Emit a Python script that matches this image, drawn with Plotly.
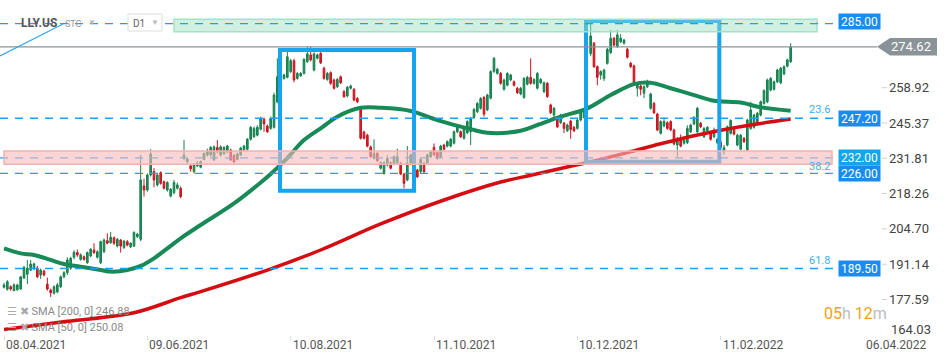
import plotly.graph_objects as go

# ---------------- data (daily bars, index 0 = 08.04.2021) ----------------
opens = [182.3,181.5,182.5,181.0,181.3,181.6,185.8,187.3,188.9,189.4,189.6,187.0,188.5,183.5,181.2,180.0,180.5,182.5,186.3,187.9,
 189.6,193.8,195.6,193.0,194.0,191.7,194.3,196.6,193.8,191.7,195.9,200.2,199.4,201.3,198.1,200.4,197.6,199.8,197.8,198.1,
 201.7,200.7,221.2,219.6,225.4,226.7,221.6,226.3,222.8,219.6,217.3,218.6,220.3,220.3,231.8,230.5,228.9,226.7,228.9,228.4,
 231.4,233.1,233.1,231.2,236.0,233.1,233.7,234.3,235.0,232.9,231.4,233.1,235.0,235.3,239.1,240.1,240.7,243.0,246.8,244.2,
 243.3,243.7,253.5,263.0,262.5,262.9,265.1,269.3,262.5,263.5,264.4,268.9,271.5,265.7,270.2,272.1,266.4,262.1,264.7,261.9,
 259.3,263.1,257.4,255.7,258.7,258.3,254.8,251.0,241.9,240.7,236.2,231.8,233.7,228.0,226.0,229.2,230.1,229.6,230.1,229.9,
 225.7,223.5,230.1,232.0,227.3,226.7,229.9,230.1,232.4,236.0,234.0,232.4,236.9,236.5,236.5,237.6,242.0,242.0,239.5,241.6,
 242.0,247.5,249.7,251.0,255.2,250.4,254.9,265.1,264.4,264.4,258.3,259.9,261.9,261.2,258.7,256.5,255.2,260.3,262.9,260.6,
 258.7,260.8,257.4,260.6,252.3,248.4,246.8,245.5,245.3,242.4,246.1,243.7,243.3,246.5,247.5,250.5,272.0,276.0,267.0,263.8,
 262.5,268.3,272.4,277.9,274.7,276.6,276.0,273.7,268.3,267.3,258.7,259.6,256.8,259.3,251.0,252.9,248.8,241.4,244.2,245.5,
 245.9,242.7,236.9,239.5,237.6,237.8,242.0,245.0,242.0,245.3,240.1,242.4,241.4,240.1,237.8,238.0,234.5,236.9,241.4,243.3,
 236.9,235.3,239.5,235.0,243.3,243.7,245.3,248.4,252.9,253.5,258.0,258.3,261.2,260.8,264.2,267.2,268.9]
highs = [184.0,185.0,183.0,183.8,183.6,186.6,190.5,192.8,192.8,191.8,190.5,189.5,189.0,186.0,181.8,183.0,184.0,186.8,188.5,193.8,
 194.0,196.5,196.8,195.3,194.5,196.0,197.3,199.2,196.5,200.2,201.0,203.0,203.5,201.8,201.2,200.8,200.5,200.4,199.6,203.8,
 203.2,233.1,224.0,226.0,235.3,228.0,226.0,226.8,223.3,223.0,220.4,223.5,222.5,221.0,238.8,232.0,229.5,230.0,230.8,231.0,
 234.0,235.5,236.5,236.8,238.8,236.8,236.5,237.0,235.5,233.5,234.0,236.2,237.0,239.6,244.2,244.0,244.5,247.8,247.5,244.8,
 247.8,257.0,270.2,266.0,264.3,272.7,270.0,270.0,265.0,265.0,270.3,274.7,274.7,272.5,272.0,272.6,267.0,265.0,265.2,262.4,
 262.6,263.6,258.0,259.6,260.1,258.8,255.3,251.5,242.4,241.2,236.7,239.1,234.2,230.6,230.6,233.0,230.6,232.9,235.5,230.4,
 226.2,236.5,233.6,233.0,227.8,232.0,230.4,233.6,234.8,237.5,234.5,237.0,237.4,238.7,239.6,242.5,244.4,242.5,244.2,246.4,
 247.7,251.1,253.4,255.3,255.7,256.6,265.6,270.7,266.5,265.0,262.4,264.9,264.3,261.7,259.2,259.2,263.0,263.4,270.2,262.6,
 264.9,262.6,261.3,261.1,252.8,251.5,247.3,248.9,245.8,245.1,246.6,244.2,247.0,250.2,250.9,253.0,283.6,276.5,267.5,265.6,
 266.2,274.2,281.0,278.4,281.1,279.5,277.7,274.2,268.8,267.8,260.5,260.1,259.8,262.0,257.0,253.4,249.3,246.4,247.5,246.0,
 246.4,243.2,240.0,241.0,239.3,244.5,245.1,248.0,251.5,245.8,243.8,244.2,241.9,243.6,239.6,239.0,237.0,244.4,246.8,243.8,
 241.2,241.2,240.0,247.0,253.5,248.9,249.6,254.0,258.3,262.4,263.0,261.7,266.2,266.9,267.5,270.1,276.0]
lows = [181.8,181.0,181.0,180.8,181.0,181.3,185.5,183.5,188.5,188.8,185.9,185.5,186.5,181.0,178.6,179.5,180.0,182.0,185.8,187.0,
 189.0,193.0,194.0,192.5,192.5,191.3,193.8,195.0,193.3,191.2,195.5,198.8,199.0,198.5,197.6,195.6,197.0,198.0,197.3,197.7,
 201.2,200.0,217.1,219.0,224.8,220.7,221.0,221.7,219.8,219.0,216.8,218.0,219.8,216.5,231.0,230.0,226.7,226.0,228.5,228.0,
 231.0,232.5,232.5,230.8,233.8,232.5,233.0,233.8,230.8,230.0,231.0,232.7,234.5,234.8,238.6,239.6,240.2,242.5,242.0,241.5,
 242.8,243.2,253.0,260.0,262.0,262.5,264.5,261.0,262.0,263.0,264.0,268.5,269.0,265.2,269.8,268.0,262.0,261.6,260.0,258.2,
 258.8,260.3,255.0,255.2,258.2,253.7,253.0,239.0,239.0,236.0,232.0,231.3,230.4,227.5,225.5,228.7,227.5,229.1,229.6,225.3,
 220.3,223.0,229.6,229.0,224.2,226.2,226.2,229.6,231.9,232.6,231.3,231.9,234.8,236.0,236.0,237.1,241.5,239.6,239.0,241.1,
 236.9,247.0,249.2,250.5,247.8,249.9,254.4,264.6,263.9,260.1,257.8,259.4,261.4,259.4,256.5,256.0,254.7,259.8,260.1,260.1,
 258.2,260.3,256.9,255.0,248.8,246.9,243.4,245.0,241.5,241.9,239.3,241.9,242.8,246.0,247.0,249.0,271.0,266.5,259.9,262.0,
 261.5,267.8,271.9,274.8,274.2,276.1,275.5,270.1,266.5,260.1,255.5,256.0,254.9,258.8,250.5,248.8,242.2,240.9,243.7,242.8,
 242.2,236.8,232.4,236.0,237.1,237.3,241.5,244.5,241.5,243.4,239.6,241.9,238.6,239.6,237.3,235.0,233.1,236.4,240.9,240.6,
 236.4,234.8,237.7,234.5,242.8,243.2,244.8,247.9,252.4,253.0,257.5,257.8,260.7,260.3,263.7,266.7,268.4]
closes = [183.2,184.4,181.6,183.2,183.2,186.3,189.9,189.6,191.2,191.2,186.3,188.9,187.0,181.6,180.2,182.5,183.2,186.3,187.9,192.8,
 193.4,195.7,194.7,194.7,193.0,195.6,196.9,195.6,195.9,199.8,200.4,199.2,201.5,199.2,200.7,198.1,200.0,198.5,199.2,203.3,
 202.7,223.5,219.6,225.4,233.5,223.5,225.4,222.2,220.3,222.5,219.9,222.5,221.6,217.1,233.1,231.5,227.8,229.2,229.9,230.5,
 233.7,234.6,236.0,236.2,234.3,236.2,236.0,236.5,231.2,230.5,233.5,235.7,236.5,239.1,243.7,243.3,243.7,247.2,245.0,242.0,
 247.2,256.1,263.1,262.0,263.8,270.8,269.3,261.9,264.4,264.4,269.8,271.9,269.6,271.9,271.5,268.5,262.5,264.4,260.6,258.7,
 262.1,260.8,255.5,259.1,259.6,254.2,253.5,239.5,239.5,236.5,232.4,233.7,230.9,230.1,230.1,231.8,228.0,232.4,232.4,225.8,
 222.2,229.9,233.1,230.0,224.7,231.4,226.7,233.1,234.3,233.1,231.8,236.5,235.3,238.2,239.1,242.0,243.9,240.1,243.7,245.9,
 247.2,250.6,252.9,254.8,248.8,256.1,265.1,270.2,266.0,260.6,261.9,264.4,263.8,259.9,257.0,258.7,262.5,262.9,260.6,262.1,
 264.4,262.1,260.8,255.5,249.3,251.0,243.9,248.4,243.3,244.6,242.9,242.4,246.5,249.7,250.4,252.0,278.8,267.0,262.9,265.1,
 265.7,273.7,277.9,275.3,279.2,277.9,277.2,270.6,267.0,260.6,260.0,258.3,259.3,261.2,256.5,249.3,242.7,245.9,245.9,243.3,
 242.7,237.3,239.5,236.5,238.8,243.3,244.6,247.5,251.0,243.9,243.3,243.7,239.1,242.7,239.1,236.0,235.9,243.9,246.3,241.1,
 240.7,240.7,238.2,246.5,250.4,248.4,249.1,253.5,257.8,261.9,262.5,261.2,265.7,266.4,267.0,269.6,274.62]
bar_idx = list(range(len(closes)))

sma50_idx = [0,5,9,14,18,23,29,32,37,41,45,49,53,59,69,77,80,85,90,95,100,107,113,122,130,140,145,155,160,167,175,182,189,194,200,207,213,221,227,236]
sma50_val = [197.2,195.3,194.7,192.8,191.2,190.2,188.9,188.3,188.9,190.5,193.4,197.2,201.1,206.2,214.5,222.5,225.8,231.9,238.8,243.3,247.8,251.2,251.2,250.0,246.5,243.0,241.6,242.4,244.6,247.8,251.0,256.1,260.3,260.8,258.7,256.1,253.9,253.2,251.4,250.08]
sma200_idx = [0,19,39,53,59,79,95,113,132,149,158,167,177,187,197,207,217,227,236]
sma200_val = [166.1,169.2,172.5,178.3,180.6,188.9,196.6,206.6,215.8,222.7,225.3,227.9,230.8,234.0,237.4,240.5,243.1,245.2,246.88]

date_tick_idx = [0, 43, 86, 129, 172, 215, 258]
date_tick_text = ["08.04.2021", "09.06.2021", "10.08.2021", "11.10.2021", "10.12.2021", "11.02.2022", "06.04.2022"]
price_ticks = [177.59, 191.14, 204.70, 218.26, 231.81, 245.37, 258.92]
price_tick_text = ["177.59", "191.14", "204.70", "218.26", "231.81", "245.37", "258.92"]
bottom_tick_text = "164.03"

fib_levels = [283.5, 247.2, 226.0, 189.5]
fib_labels = ["", "23.6", "38.2", "61.8"]
level_boxes = [(284.3, "285.00", "#1a8cf0"), (247.2, "247.20", "#1a8cf0"), (232.0, "232.00", "#12a5ea"),
               (226.0, "226.00", "#1a8cf0"), (189.5, "189.50", "#1a8cf0")]
last_price = 274.62
sma200_last, sma50_last = 246.88, 250.08

# drawings (user objects on the chart)
support_zone = (229.5, 234.6)
resist_zone = (280.4, 285.2)
boxes = [(82.8, 123.0, 219.4, 273.4), (174.6, 214.6, 230.5, 284.5)]
trendline = (-1.2, 271.1, 17.7, 283.4)

X0, X1 = -1.2, 249.3
Y0, Y1 = 163.96, 292.6
PLOT_W, PLOT_H = 835, 335

def px(xp):  # paper x from pixel
    return xp / PLOT_W

def py(yp):  # paper y from pixel (from top)
    return (PLOT_H - yp) / PLOT_H

fig = go.Figure()
fig.add_trace(go.Candlestick(
    x=bar_idx, open=opens, high=highs, low=lows, close=closes,
    increasing=dict(line=dict(color="#15804e", width=1), fillcolor="#1f8f5b"),
    decreasing=dict(line=dict(color="#c9141f", width=1), fillcolor="#dc2330"),
    whiskerwidth=0, showlegend=False, hoverinfo="skip"))
fig.add_trace(go.Scatter(x=sma200_idx, y=sma200_val, mode="lines",
    line=dict(color="#d40d12", width=3.5, shape="spline"), showlegend=False, hoverinfo="skip"))
fig.add_trace(go.Scatter(x=sma50_idx, y=sma50_val, mode="lines",
    line=dict(color="#188a57", width=4, shape="spline"), showlegend=False, hoverinfo="skip"))

shapes = []
for (xa, xb, ya, yb) in boxes:
    shapes.append(dict(type="rect", xref="x", yref="y", x0=xa, x1=xb, y0=ya, y1=yb,
                       line=dict(color="#16a4ee", width=4), layer="above"))
shapes.append(dict(type="line", xref="paper", yref="y", x0=0, x1=1.005, y0=232.0, y1=232.0,
                   line=dict(color="#1e9ff0", width=1.3, dash="8px,7px"), layer="above"))
shapes.append(dict(type="rect", xref="paper", yref="y", x0=px(4), x1=px(832), y0=support_zone[0], y1=support_zone[1],
                   fillcolor="rgba(245,185,185,0.6)", line=dict(color="#f3b1b1", width=1.5), layer="above"))
shapes.append(dict(type="rect", xref="paper", yref="y", x0=px(174), x1=px(817), y0=resist_zone[0], y1=resist_zone[1],
                   fillcolor="rgba(150,225,190,0.45)", line=dict(color="#a3e2c6", width=1.5), layer="above"))
for lv in fib_levels:
    shapes.append(dict(type="line", xref="paper", yref="y", x0=0, x1=1.005, y0=lv, y1=lv,
                       line=dict(color="#1e9ff0", width=1.3, dash="8px,7px"), layer="above"))
shapes.append(dict(type="line", xref="paper", yref="y", x0=0, x1=px(877), y0=last_price, y1=last_price,
                   line=dict(color="#8a9398", width=1.3), layer="above"))
shapes.append(dict(type="line", xref="x", yref="y", x0=trendline[0], y0=trendline[1], x1=trendline[2], y1=trendline[3],
                   line=dict(color="#2fa8f0", width=1.2), layer="above"))
shapes.append(dict(type="rect", xref="paper", yref="paper", x0=px(128), x1=px(162), y0=py(31), y1=py(14),
                   fillcolor="white", line=dict(color="#dddddd", width=1), layer="above"))
dy = 8.7 * (Y1 - Y0) / PLOT_H
shapes.append(dict(type="path", xref="paper", yref="y",
                   path=f"M {px(877)},{last_price} L {px(890)},{last_price+dy} L {px(937)},{last_price+dy} "
                        f"L {px(937)},{last_price-dy} L {px(890)},{last_price-dy} Z",
                   fillcolor="#8a9398", line=dict(width=0), layer="above"))
for tv in price_ticks:
    shapes.append(dict(type="line", xref="paper", yref="y", x0=px(882), x1=px(887), y0=tv, y1=tv,
                       line=dict(color="#d0d0d0", width=1), layer="above"))

ann = []
for idx, txt in zip(date_tick_idx, date_tick_text):
    # position as fraction of the x-axis span (works also for the label beyond the last bar)
    ann.append(dict(x=(idx - X0) / (X1 - X0), xref="paper", y=0, yref="paper", yanchor="top", xanchor="left",
                    yshift=-1, text=txt, showarrow=False, font=dict(size=12, color="#555")))
ann.append(dict(x=px(889), xref="paper", y=py(329), yref="paper", xanchor="left", yanchor="middle",
                text=bottom_tick_text, showarrow=False, font=dict(size=13, color="#444")))
for (lv, txt, col) in level_boxes:
    ann.append(dict(x=px(859.5), xref="paper", y=lv, yref="y", xanchor="center", yanchor="middle",
                    text=txt, showarrow=False,
                    bgcolor=col, width=41, height=15, borderpad=0, font=dict(size=12, color="white")))
for lab, ypx in zip(fib_labels[1:], [109, 166, 260]):
    ann.append(dict(x=px(832), xref="paper", y=py(ypx), yref="paper", xanchor="right", yanchor="middle",
                    text=lab, showarrow=False, font=dict(size=11, color="#3aaef2")))
ann.append(dict(x=px(889), xref="paper", y=last_price, yref="y", xanchor="left", yanchor="middle",
                text=f"{last_price:.2f}", showarrow=False, font=dict(size=13, color="white")))
ann.append(dict(x=px(822), xref="paper", y=py(313), yref="paper", xanchor="left", yanchor="middle",
                text="<span style='color:#f5a020'>05</span><span style='color:#bdbdbd'>h</span> "
                     "<span style='color:#f5a020'>12</span><span style='color:#bdbdbd'>m</span>",
                showarrow=False, font=dict(size=16)))
ann.append(dict(x=px(5), xref="paper", y=py(311), yref="paper", xanchor="left", yanchor="middle",
                text=f"<span style='color:#aaa'>☰ ✖</span> SMA [200, 0] {sma200_last:.2f}",
                showarrow=False, font=dict(size=11, color="#8a8a8a")))
ann.append(dict(x=px(5), xref="paper", y=py(327), yref="paper", xanchor="left", yanchor="middle",
                text=f"<span style='color:#aaa'>☰ ✖</span> SMA [50, 0] {sma50_last:.2f}",
                showarrow=False, font=dict(size=11, color="#8a8a8a")))
ann.append(dict(x=px(19), xref="paper", y=py(23), yref="paper", xanchor="left", yanchor="middle",
                text="<b>LLY.US</b>", showarrow=False, font=dict(size=12, color="#555")))
ann.append(dict(x=px(63), xref="paper", y=py(24), yref="paper", xanchor="left", yanchor="middle",
                text="STC", showarrow=False, font=dict(size=9, color="#999")))
ann.append(dict(x=px(86), xref="paper", y=py(22), yref="paper", xanchor="left", yanchor="middle",
                text="▼", showarrow=False, font=dict(size=8, color="#bbb")))
ann.append(dict(x=px(131), xref="paper", y=py(23), yref="paper", xanchor="left", yanchor="middle",
                text="D1", showarrow=False, font=dict(size=10, color="#666")))
ann.append(dict(x=px(149), xref="paper", y=py(22), yref="paper", xanchor="left", yanchor="middle",
                text="▼", showarrow=False, font=dict(size=8, color="#bbb")))

fig.update_layout(
    width=950, height=360, margin=dict(l=0, r=115, t=0, b=25, autoexpand=False),
    paper_bgcolor="white", plot_bgcolor="white",
    font=dict(family="Roboto, Arial, sans-serif"),
    shapes=shapes, annotations=ann,
    xaxis=dict(range=[X0, X1], showgrid=False, zeroline=False, showticklabels=False, automargin=False,
               ticks="outside", tickvals=date_tick_idx[:-1], ticklen=4, tickcolor="#dddddd",
               rangeslider=dict(visible=False), showline=False),
    yaxis=dict(range=[Y0, Y1], side="right", showgrid=False, zeroline=False, tickvals=price_ticks,
               ticktext=price_tick_text, ticks="", ticklabelstandoff=53, automargin=False,
               tickfont=dict(size=13, color="#444"), showline=False),
)
fig.write_html("out.html", config={"displayModeBar": False},
               post_script="document.body.style.margin='0px';document.body.style.overflow='hidden';")
